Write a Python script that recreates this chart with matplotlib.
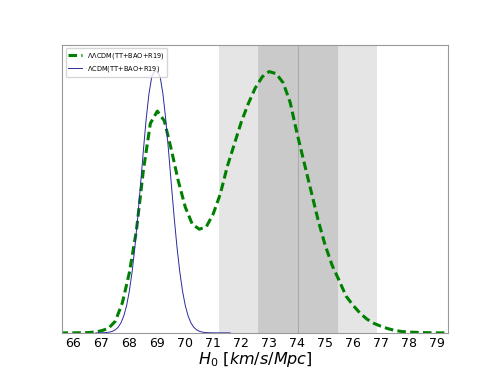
import matplotlib
matplotlib.use('Agg')
import matplotlib.pyplot as plt
import numpy as np

# Riess 2019 band
h0_r19 = 74.03
sig_r19 = 1.42

# LCDM posterior (normalised)
x_lcdm = [66.8, 66.9, 67.0, 67.1, 67.2, 67.3, 67.4, 67.5, 67.6, 67.7, 67.8, 67.9,
          68.0, 68.1, 68.2, 68.3, 68.4, 68.5, 68.6, 68.7, 68.8, 68.9, 69.0,
          69.1, 69.2, 69.3, 69.4, 69.5, 69.6, 69.7, 69.8, 69.9, 70.0, 70.1,
          70.2, 70.3, 70.4, 70.5, 70.6, 70.7, 70.8, 70.9, 71.0, 71.2, 71.6]
y_lcdm = [0.0, 0.0001, 0.0003, 0.0007, 0.0014, 0.0030, 0.0061, 0.0118, 0.0218, 0.0384,
          0.0646, 0.104, 0.160, 0.235, 0.330, 0.443, 0.568, 0.696, 0.816, 0.913,
          0.978, 1.0, 1.0, 0.978, 0.913, 0.816, 0.696, 0.568, 0.443, 0.330, 0.235,
          0.160, 0.104, 0.0646, 0.0384, 0.0218, 0.0118, 0.0061, 0.0030, 0.0014,
          0.0007, 0.0003, 0.0001, 0.0, 0.0]

# LLCDM posterior (normalised)
x_llcdm = [65.5, 66.0, 66.5, 66.75, 67.0, 67.25, 67.5, 67.75, 68.0, 68.25, 68.5,
           68.75, 69.0, 69.25, 69.5, 69.75, 70.0, 70.25, 70.5, 70.75, 71.0, 71.25,
           71.5, 71.75, 72.0, 72.25, 72.5, 72.75, 73.0, 73.25, 73.5, 73.75, 74.0,
           74.25, 74.5, 74.75, 75.0, 75.25, 75.5, 75.75, 76.0, 76.25, 76.5, 76.75,
           77.0, 77.25, 77.5, 77.75, 78.0, 78.5, 79.0, 79.5]
y_llcdm = [0.0, 0.0, 0.001, 0.003, 0.008, 0.017, 0.045, 0.115, 0.23, 0.39, 0.62,
           0.80, 0.847, 0.81, 0.70, 0.58, 0.48, 0.415, 0.396, 0.405, 0.455, 0.53,
           0.635, 0.72, 0.805, 0.875, 0.935, 0.978, 0.998, 0.99, 0.955, 0.88, 0.76,
           0.65, 0.54, 0.43, 0.335, 0.258, 0.2, 0.14, 0.105, 0.075, 0.052, 0.036,
           0.025, 0.016, 0.009, 0.005, 0.003, 0.001, 0.0, 0.0]

xticks = list(range(66, 80))

fig = plt.figure(figsize=(4.98, 3.74), dpi=100)
ax = fig.add_subplot(111)

ax.axvspan(h0_r19 - 2 * sig_r19, h0_r19 + 2 * sig_r19, color='#e5e5e5', lw=0)
ax.axvspan(h0_r19 - sig_r19, h0_r19 + sig_r19, color='#cacaca', lw=0)
ax.axvline(h0_r19, color='#aaaaaa', lw=0.8)

ax.plot(x_llcdm, y_llcdm, '--', color='green', lw=2.2, dashes=(2.8, 1.4),
        label=r'$\Lambda\Lambda$CDM(TT+BAO+R19)')
ax.plot(x_lcdm, y_lcdm, '-', color='#2a2aa0', lw=0.7, label=r'$\Lambda$CDM(TT+BAO+R19)')

ax.set_xlim(65.6, 79.4)
ax.set_ylim(0, 1.1)
ax.set_xticks(xticks)
ax.set_yticks([])
ax.tick_params(axis='x', labelsize=9, length=0, pad=3)
for s in ax.spines.values():
    s.set_color('#999999')
ax.set_xlabel(r'$H_0\ [km/s/Mpc]$', fontsize=11.5, labelpad=0)
ax.legend(loc='upper left', fontsize=4.8)

fig.savefig('out.png', dpi=100)
